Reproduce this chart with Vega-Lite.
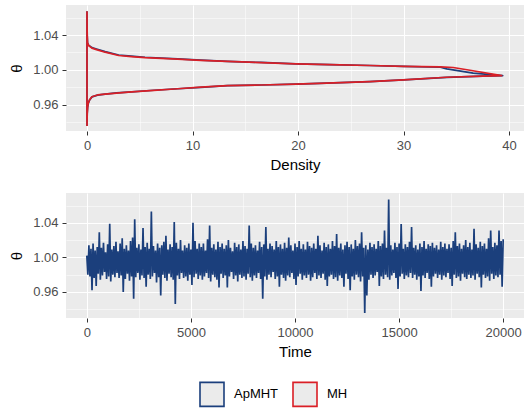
{
  "$schema": "https://vega.github.io/schema/vega-lite/v6.json",
  "padding": {"left": 9, "top": 5, "right": 8, "bottom": 5},
  "spacing": 21,
  "datasets": {
    "dens": [
      {"m":"ApMHT","i":0,"d":0,"th":0.9355},{"m":"ApMHT","i":1,"d":0.02,"th":0.95},{"m":"ApMHT","i":2,"d":0.06,"th":0.957},{"m":"ApMHT","i":3,"d":0.12,"th":0.9615},{"m":"ApMHT","i":4,"d":0.25,"th":0.9655},{"m":"ApMHT","i":5,"d":0.47,"th":0.969},{"m":"ApMHT","i":6,"d":1.0,"th":0.971},{"m":"ApMHT","i":7,"d":1.72,"th":0.9722},{"m":"ApMHT","i":8,"d":2.8,"th":0.9735},{"m":"ApMHT","i":9,"d":3.9,"th":0.9745},{"m":"ApMHT","i":10,"d":6.0,"th":0.9763},{"m":"ApMHT","i":11,"d":8.6,"th":0.9783},{"m":"ApMHT","i":12,"d":10.8,"th":0.98},{"m":"ApMHT","i":13,"d":13.3,"th":0.9818},{"m":"ApMHT","i":14,"d":16.5,"th":0.9826},{"m":"ApMHT","i":15,"d":19.8,"th":0.9836},{"m":"ApMHT","i":16,"d":22.0,"th":0.9845},{"m":"ApMHT","i":17,"d":26.8,"th":0.9865},{"m":"ApMHT","i":18,"d":30.0,"th":0.9886},{"m":"ApMHT","i":19,"d":34.1,"th":0.9914},{"m":"ApMHT","i":20,"d":37.5,"th":0.9928},{"m":"ApMHT","i":21,"d":39.4,"th":0.9934},{"m":"ApMHT","i":22,"d":36.6,"th":0.9962},{"m":"ApMHT","i":23,"d":34.1,"th":1.0011},{"m":"ApMHT","i":24,"d":33.5,"th":1.003},{"m":"ApMHT","i":25,"d":30.0,"th":1.004},{"m":"ApMHT","i":26,"d":26.8,"th":1.005},{"m":"ApMHT","i":27,"d":23.0,"th":1.006},{"m":"ApMHT","i":28,"d":19.8,"th":1.007},{"m":"ApMHT","i":29,"d":16.5,"th":1.0085},{"m":"ApMHT","i":30,"d":13.3,"th":1.0098},{"m":"ApMHT","i":31,"d":10.8,"th":1.0112},{"m":"ApMHT","i":32,"d":8.6,"th":1.0126},{"m":"ApMHT","i":33,"d":5.5,"th":1.0145},{"m":"ApMHT","i":34,"d":4.2,"th":1.0158},{"m":"ApMHT","i":35,"d":3.0,"th":1.0171},{"m":"ApMHT","i":36,"d":1.72,"th":1.021},{"m":"ApMHT","i":37,"d":0.9,"th":1.024},{"m":"ApMHT","i":38,"d":0.47,"th":1.0255},{"m":"ApMHT","i":39,"d":0.15,"th":1.0285},{"m":"ApMHT","i":40,"d":0.05,"th":1.031},{"m":"ApMHT","i":41,"d":0.02,"th":1.04},{"m":"ApMHT","i":42,"d":0.01,"th":1.05},{"m":"ApMHT","i":43,"d":0,"th":1.0665},{"m":"ApMHT","i":44,"d":0,"th":0.9355},
      {"m":"MH","i":0,"d":0,"th":0.9355},{"m":"MH","i":1,"d":0.02,"th":0.95},{"m":"MH","i":2,"d":0.06,"th":0.9572},{"m":"MH","i":3,"d":0.12,"th":0.9617},{"m":"MH","i":4,"d":0.25,"th":0.9657},{"m":"MH","i":5,"d":0.47,"th":0.9692},{"m":"MH","i":6,"d":1.0,"th":0.9712},{"m":"MH","i":7,"d":1.72,"th":0.9722},{"m":"MH","i":8,"d":2.8,"th":0.9733},{"m":"MH","i":9,"d":3.9,"th":0.9744},{"m":"MH","i":10,"d":6.0,"th":0.9762},{"m":"MH","i":11,"d":8.6,"th":0.9783},{"m":"MH","i":12,"d":10.8,"th":0.9801},{"m":"MH","i":13,"d":13.3,"th":0.9818},{"m":"MH","i":14,"d":16.5,"th":0.9826},{"m":"MH","i":15,"d":19.8,"th":0.9837},{"m":"MH","i":16,"d":22.0,"th":0.9845},{"m":"MH","i":17,"d":26.8,"th":0.9866},{"m":"MH","i":18,"d":30.0,"th":0.9886},{"m":"MH","i":19,"d":34.1,"th":0.9915},{"m":"MH","i":20,"d":37.5,"th":0.9929},{"m":"MH","i":21,"d":39.3,"th":0.9934},{"m":"MH","i":22,"d":36.3,"th":0.9996},{"m":"MH","i":23,"d":34.7,"th":1.0027},{"m":"MH","i":24,"d":33.5,"th":1.0034},{"m":"MH","i":25,"d":30.0,"th":1.0041},{"m":"MH","i":26,"d":26.8,"th":1.005},{"m":"MH","i":27,"d":23.0,"th":1.006},{"m":"MH","i":28,"d":19.8,"th":1.007},{"m":"MH","i":29,"d":16.5,"th":1.0084},{"m":"MH","i":30,"d":13.3,"th":1.0097},{"m":"MH","i":31,"d":10.8,"th":1.011},{"m":"MH","i":32,"d":8.6,"th":1.0124},{"m":"MH","i":33,"d":5.5,"th":1.0141},{"m":"MH","i":34,"d":4.2,"th":1.0152},{"m":"MH","i":35,"d":3.0,"th":1.0165},{"m":"MH","i":36,"d":1.72,"th":1.0203},{"m":"MH","i":37,"d":0.9,"th":1.0233},{"m":"MH","i":38,"d":0.47,"th":1.025},{"m":"MH","i":39,"d":0.15,"th":1.028},{"m":"MH","i":40,"d":0.05,"th":1.031},{"m":"MH","i":41,"d":0.02,"th":1.04},{"m":"MH","i":42,"d":0.01,"th":1.05},{"m":"MH","i":43,"d":0,"th":1.0665},{"m":"MH","i":44,"d":0,"th":0.9355}
    ],
    "trace": [
      {"t":0,"v":1.002},{"t":50,"v":0.98},{"t":100,"v":1.014},{"t":150,"v":0.978},{"t":200,"v":1.01},{"t":250,"v":0.962},{"t":300,"v":1.016},{"t":350,"v":0.976},{"t":400,"v":1.008},{"t":450,"v":0.967},
      {"t":500,"v":1.012},{"t":550,"v":0.981},{"t":600,"v":1.029},{"t":650,"v":0.974},{"t":700,"v":1.011},{"t":750,"v":0.979},{"t":800,"v":1.017},{"t":850,"v":0.983},{"t":900,"v":1.006},{"t":950,"v":0.975},
      {"t":1000,"v":1.015},{"t":1050,"v":0.978},{"t":1100,"v":1.039},{"t":1150,"v":0.972},{"t":1200,"v":1.009},{"t":1250,"v":0.98},{"t":1300,"v":1.013},{"t":1350,"v":0.977},{"t":1400,"v":1.018},{"t":1450,"v":0.982},
      {"t":1500,"v":1.007},{"t":1550,"v":0.976},{"t":1600,"v":1.016},{"t":1650,"v":0.979},{"t":1700,"v":1.022},{"t":1750,"v":0.96},{"t":1800,"v":1.01},{"t":1850,"v":0.975},{"t":1900,"v":1.014},{"t":1950,"v":0.981},
      {"t":2000,"v":1.008},{"t":2050,"v":0.973},{"t":2100,"v":1.019},{"t":2150,"v":0.978},{"t":2200,"v":1.023},{"t":2250,"v":0.952},{"t":2300,"v":1.044},{"t":2350,"v":0.977},{"t":2400,"v":1.011},{"t":2450,"v":0.982},
      {"t":2500,"v":1.015},{"t":2550,"v":0.974},{"t":2600,"v":1.009},{"t":2650,"v":0.979},{"t":2700,"v":1.034},{"t":2750,"v":0.976},{"t":2800,"v":1.012},{"t":2850,"v":0.966},{"t":2900,"v":1.017},{"t":2950,"v":0.98},
      {"t":3000,"v":1.01},{"t":3050,"v":0.975},{"t":3100,"v":1.053},{"t":3150,"v":0.978},{"t":3200,"v":1.013},{"t":3250,"v":0.982},{"t":3300,"v":1.008},{"t":3350,"v":0.971},{"t":3400,"v":1.016},{"t":3450,"v":0.977},
      {"t":3500,"v":1.011},{"t":3550,"v":0.956},{"t":3600,"v":1.014},{"t":3650,"v":0.98},{"t":3700,"v":1.018},{"t":3750,"v":0.976},{"t":3800,"v":1.025},{"t":3850,"v":0.973},{"t":3900,"v":1.009},{"t":3950,"v":0.981},
      {"t":4000,"v":1.015},{"t":4050,"v":0.977},{"t":4100,"v":1.012},{"t":4150,"v":0.974},{"t":4200,"v":1.041},{"t":4250,"v":0.946},{"t":4300,"v":1.017},{"t":4350,"v":0.979},{"t":4400,"v":1.01},{"t":4450,"v":0.975},
      {"t":4500,"v":1.02},{"t":4550,"v":0.982},{"t":4600,"v":1.008},{"t":4650,"v":0.976},{"t":4700,"v":1.014},{"t":4750,"v":0.978},{"t":4800,"v":1.011},{"t":4850,"v":0.973},{"t":4900,"v":1.016},{"t":4950,"v":0.98},
      {"t":5000,"v":1.009},{"t":5050,"v":0.968},{"t":5100,"v":1.04},{"t":5150,"v":0.977},{"t":5200,"v":1.019},{"t":5250,"v":0.981},{"t":5300,"v":1.01},{"t":5350,"v":0.975},{"t":5400,"v":1.016},{"t":5450,"v":0.979},
      {"t":5500,"v":1.012},{"t":5550,"v":0.974},{"t":5600,"v":1.016},{"t":5650,"v":0.978},{"t":5700,"v":1.008},{"t":5750,"v":0.982},{"t":5800,"v":1.021},{"t":5850,"v":0.976},{"t":5900,"v":1.037},{"t":5950,"v":0.972},
      {"t":6000,"v":1.011},{"t":6050,"v":0.98},{"t":6100,"v":1.015},{"t":6150,"v":0.977},{"t":6200,"v":1.009},{"t":6250,"v":0.974},{"t":6300,"v":1.018},{"t":6350,"v":0.965},{"t":6400,"v":1.012},{"t":6450,"v":0.981},
      {"t":6500,"v":1.016},{"t":6550,"v":0.976},{"t":6600,"v":1.01},{"t":6650,"v":0.979},{"t":6700,"v":1.014},{"t":6750,"v":0.965},{"t":6800,"v":1.02},{"t":6850,"v":0.978},{"t":6900,"v":1.011},{"t":6950,"v":0.983},
      {"t":7000,"v":1.007},{"t":7050,"v":0.975},{"t":7100,"v":1.017},{"t":7150,"v":0.979},{"t":7200,"v":1.012},{"t":7250,"v":0.972},{"t":7300,"v":1.015},{"t":7350,"v":0.98},{"t":7400,"v":1.009},{"t":7450,"v":0.976},
      {"t":7500,"v":1.019},{"t":7550,"v":0.978},{"t":7600,"v":1.013},{"t":7650,"v":0.974},{"t":7700,"v":1.01},{"t":7750,"v":0.981},{"t":7800,"v":1.037},{"t":7850,"v":0.977},{"t":7900,"v":1.016},{"t":7950,"v":0.973},
      {"t":8000,"v":1.011},{"t":8050,"v":0.979},{"t":8100,"v":1.014},{"t":8150,"v":0.976},{"t":8200,"v":1.008},{"t":8250,"v":0.982},{"t":8300,"v":1.018},{"t":8350,"v":0.975},{"t":8400,"v":1.012},{"t":8450,"v":0.952},
      {"t":8500,"v":1.015},{"t":8550,"v":0.978},{"t":8600,"v":1.035},{"t":8650,"v":0.974},{"t":8700,"v":1.01},{"t":8750,"v":0.98},{"t":8800,"v":1.016},{"t":8850,"v":0.977},{"t":8900,"v":1.013},{"t":8950,"v":0.983},
      {"t":9000,"v":1.009},{"t":9050,"v":0.975},{"t":9100,"v":1.019},{"t":9150,"v":0.978},{"t":9200,"v":1.012},{"t":9250,"v":0.966},{"t":9300,"v":1.015},{"t":9350,"v":0.98},{"t":9400,"v":1.01},{"t":9450,"v":0.976},
      {"t":9500,"v":1.017},{"t":9550,"v":0.973},{"t":9600,"v":1.011},{"t":9650,"v":0.979},{"t":9700,"v":1.023},{"t":9750,"v":0.977},{"t":9800,"v":1.014},{"t":9850,"v":0.982},{"t":9900,"v":1.008},{"t":9950,"v":0.975},
      {"t":10000,"v":1.016},{"t":10050,"v":0.968},{"t":10100,"v":1.012},{"t":10150,"v":0.978},{"t":10200,"v":1.019},{"t":10250,"v":0.981},{"t":10300,"v":1.01},{"t":10350,"v":0.974},{"t":10400,"v":1.015},{"t":10450,"v":0.979},
      {"t":10500,"v":1.009},{"t":10550,"v":0.976},{"t":10600,"v":1.018},{"t":10650,"v":0.98},{"t":10700,"v":1.013},{"t":10750,"v":0.973},{"t":10800,"v":1.011},{"t":10850,"v":0.977},{"t":10900,"v":1.016},{"t":10950,"v":0.982},
      {"t":11000,"v":1.01},{"t":11050,"v":0.975},{"t":11100,"v":1.025},{"t":11150,"v":0.979},{"t":11200,"v":1.014},{"t":11250,"v":0.976},{"t":11300,"v":1.008},{"t":11350,"v":0.981},{"t":11400,"v":1.017},{"t":11450,"v":0.974},
      {"t":11500,"v":1.012},{"t":11550,"v":0.967},{"t":11600,"v":1.015},{"t":11650,"v":0.978},{"t":11700,"v":1.01},{"t":11750,"v":0.98},{"t":11800,"v":1.019},{"t":11850,"v":0.975},{"t":11900,"v":1.013},{"t":11950,"v":0.977},
      {"t":12000,"v":1.027},{"t":12050,"v":0.973},{"t":12100,"v":1.011},{"t":12150,"v":0.979},{"t":12200,"v":1.016},{"t":12250,"v":0.976},{"t":12300,"v":1.009},{"t":12350,"v":0.966},{"t":12400,"v":1.014},{"t":12450,"v":0.981},
      {"t":12500,"v":1.018},{"t":12550,"v":0.975},{"t":12600,"v":1.012},{"t":12650,"v":0.962},{"t":12700,"v":1.015},{"t":12750,"v":0.978},{"t":12800,"v":1.01},{"t":12850,"v":0.974},{"t":12900,"v":1.02},{"t":12950,"v":0.98},
      {"t":13000,"v":1.013},{"t":13050,"v":0.977},{"t":13100,"v":1.016},{"t":13150,"v":0.972},{"t":13200,"v":1.029},{"t":13250,"v":0.978},{"t":13300,"v":1.011},{"t":13350,"v":0.9355},{"t":13400,"v":1.014},{"t":13450,"v":0.956},
      {"t":13500,"v":1.009},{"t":13550,"v":0.974},{"t":13600,"v":1.017},{"t":13650,"v":0.98},{"t":13700,"v":1.012},{"t":13750,"v":0.976},{"t":13800,"v":1.015},{"t":13850,"v":0.979},{"t":13900,"v":1.01},{"t":13950,"v":0.983},
      {"t":14000,"v":1.019},{"t":14050,"v":0.967},{"t":14100,"v":1.013},{"t":14150,"v":0.978},{"t":14200,"v":1.016},{"t":14250,"v":0.975},{"t":14300,"v":1.031},{"t":14350,"v":0.98},{"t":14400,"v":1.011},{"t":14450,"v":0.977},
      {"t":14500,"v":1.067},{"t":14550,"v":0.974},{"t":14600,"v":1.014},{"t":14650,"v":0.979},{"t":14700,"v":1.009},{"t":14750,"v":0.982},{"t":14800,"v":1.017},{"t":14850,"v":0.976},{"t":14900,"v":1.012},{"t":14950,"v":0.9635},
      {"t":15000,"v":1.016},{"t":15050,"v":0.978},{"t":15100,"v":1.0385},{"t":15150,"v":0.981},{"t":15200,"v":1.01},{"t":15250,"v":0.975},{"t":15300,"v":1.015},{"t":15350,"v":0.979},{"t":15400,"v":1.012},{"t":15450,"v":0.977},
      {"t":15500,"v":1.018},{"t":15550,"v":0.982},{"t":15600,"v":1.035},{"t":15650,"v":0.976},{"t":15700,"v":1.011},{"t":15750,"v":0.98},{"t":15800,"v":1.014},{"t":15850,"v":0.974},{"t":15900,"v":1.009},{"t":15950,"v":0.978},
      {"t":16000,"v":1.016},{"t":16050,"v":0.961},{"t":16100,"v":1.012},{"t":16150,"v":0.979},{"t":16200,"v":1.019},{"t":16250,"v":0.976},{"t":16300,"v":1.01},{"t":16350,"v":0.982},{"t":16400,"v":1.015},{"t":16450,"v":0.975},
      {"t":16500,"v":1.013},{"t":16550,"v":0.966},{"t":16600,"v":1.017},{"t":16650,"v":0.978},{"t":16700,"v":1.011},{"t":16750,"v":0.981},{"t":16800,"v":1.014},{"t":16850,"v":0.976},{"t":16900,"v":1.009},{"t":16950,"v":0.98},
      {"t":17000,"v":1.018},{"t":17050,"v":0.974},{"t":17100,"v":1.012},{"t":17150,"v":0.979},{"t":17200,"v":1.016},{"t":17250,"v":0.977},{"t":17300,"v":1.01},{"t":17350,"v":0.982},{"t":17400,"v":1.015},{"t":17450,"v":0.975},
      {"t":17500,"v":1.011},{"t":17550,"v":0.967},{"t":17600,"v":1.019},{"t":17650,"v":0.98},{"t":17700,"v":1.029},{"t":17750,"v":0.976},{"t":17800,"v":1.013},{"t":17850,"v":0.978},{"t":17900,"v":1.016},{"t":17950,"v":0.973},
      {"t":18000,"v":1.01},{"t":18050,"v":0.981},{"t":18100,"v":1.014},{"t":18150,"v":0.977},{"t":18200,"v":1.02},{"t":18250,"v":0.975},{"t":18300,"v":1.012},{"t":18350,"v":0.98},{"t":18400,"v":1.017},{"t":18450,"v":0.976},
      {"t":18500,"v":1.009},{"t":18550,"v":0.979},{"t":18600,"v":1.033},{"t":18650,"v":0.974},{"t":18700,"v":1.015},{"t":18750,"v":0.981},{"t":18800,"v":1.011},{"t":18850,"v":0.977},{"t":18900,"v":1.018},{"t":18950,"v":0.965},
      {"t":19000,"v":1.013},{"t":19050,"v":0.98},{"t":19100,"v":1.016},{"t":19150,"v":0.976},{"t":19200,"v":1.01},{"t":19250,"v":0.978},{"t":19300,"v":1.022},{"t":19350,"v":0.973},{"t":19400,"v":1.031},{"t":19450,"v":0.981},
      {"t":19500,"v":1.012},{"t":19550,"v":0.975},{"t":19600,"v":1.017},{"t":19650,"v":0.979},{"t":19700,"v":1.014},{"t":19750,"v":0.977},{"t":19800,"v":1.031},{"t":19850,"v":0.98},{"t":19900,"v":1.019},{"t":19950,"v":0.966},
      {"t":20000,"v":1.021}
    ]
  },
  "vconcat": [
    {
      "width": 458,
      "height": 126,
      "data": {"name": "dens"},
      "mark": {"type": "line", "strokeWidth": 1.7, "strokeJoin": "round"},
      "encoding": {
        "x": {
          "field": "d", "type": "quantitative",
          "scale": {"domain": [-1.99, 41.42], "nice": false, "zero": false},
          "axis": {
            "title": "Density",
            "values": [0, 5, 10, 15, 20, 25, 30, 35, 40],
            "labelExpr": "datum.value % 10 == 0 ? format(datum.value, 'd') : ''",
            "gridWidth": {"condition": {"test": "datum.value % 10 == 0", "value": 1.1}, "value": 0.5},
            "tickOpacity": {"condition": {"test": "datum.value % 10 == 0", "value": 1}, "value": 0}
          }
        },
        "y": {
          "field": "th", "type": "quantitative",
          "scale": {"domain": [0.9298, 1.0745], "nice": false, "zero": false},
          "axis": {
            "title": "θ",
            "values": [0.94, 0.96, 0.98, 1.0, 1.02, 1.04, 1.06],
            "labelExpr": "abs(datum.value*25 - round(datum.value*25)) < 0.001 ? format(datum.value, '.2f') : ''",
            "gridWidth": {"condition": {"test": "abs(datum.value*25 - round(datum.value*25)) < 0.001", "value": 1.1}, "value": 0.5},
            "tickOpacity": {"condition": {"test": "abs(datum.value*25 - round(datum.value*25)) < 0.001", "value": 1}, "value": 0}
          }
        },
        "color": {
          "field": "m", "type": "nominal",
          "scale": {"domain": ["ApMHT", "MH"], "range": ["#1B3F7C", "#DA1F26"]},
          "legend": {
            "orient": "none", "legendX": 133, "legendY": 376, "direction": "horizontal",
            "title": null, "symbolType": "square", "symbolSize": 576, "symbolStrokeWidth": 1.6,
            "symbolFillColor": "#EBEBEB", "labelFontSize": 13, "labelColor": "#000000",
            "columnPadding": 10, "labelOffset": 9
          }
        },
        "order": {"field": "i", "type": "quantitative"}
      }
    },
    {
      "width": 458,
      "height": 125,
      "data": {"name": "trace"},
      "mark": {"type": "line", "strokeWidth": 1.7, "color": "#1B3F7C"},
      "encoding": {
        "x": {
          "field": "t", "type": "quantitative",
          "scale": {"domain": [-1000, 21000], "nice": false, "zero": false},
          "axis": {
            "title": "Time",
            "values": [0, 2500, 5000, 7500, 10000, 12500, 15000, 17500, 20000],
            "labelExpr": "datum.value % 5000 == 0 ? format(datum.value, 'd') : ''",
            "gridWidth": {"condition": {"test": "datum.value % 5000 == 0", "value": 1.1}, "value": 0.5},
            "tickOpacity": {"condition": {"test": "datum.value % 5000 == 0", "value": 1}, "value": 0}
          }
        },
        "y": {
          "field": "v", "type": "quantitative",
          "scale": {"domain": [0.9298, 1.0745], "nice": false, "zero": false},
          "axis": {
            "title": "θ",
            "values": [0.94, 0.96, 0.98, 1.0, 1.02, 1.04, 1.06],
            "labelExpr": "abs(datum.value*25 - round(datum.value*25)) < 0.001 ? format(datum.value, '.2f') : ''",
            "gridWidth": {"condition": {"test": "abs(datum.value*25 - round(datum.value*25)) < 0.001", "value": 1.1}, "value": 0.5},
            "tickOpacity": {"condition": {"test": "abs(datum.value*25 - round(datum.value*25)) < 0.001", "value": 1}, "value": 0}
          }
        }
      }
    }
  ],
  "config": {
    "font": "Liberation Sans",
    "view": {"fill": "#EBEBEB", "stroke": null},
    "axis": {
      "domain": false, "tickColor": "#333333", "tickSize": 4, "tickWidth": 1,
      "labelColor": "#4D4D4D", "labelFontSize": 13, "labelPadding": 4,
      "labelFlush": false, "labelOverlap": false,
      "titleFontSize": 15, "titleFontWeight": "normal", "titleColor": "#000000",
      "gridColor": "#FFFFFF"
    },
    "axisX": {"titlePadding": 5},
    "axisY": {"titlePadding": 8}
  }
}
